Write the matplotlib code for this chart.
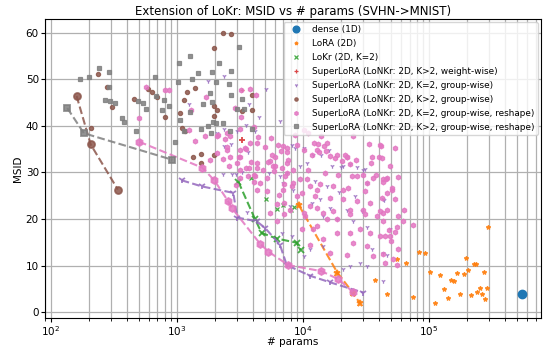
import numpy as np
import matplotlib
matplotlib.use("Agg")
from matplotlib import pyplot as plt

# ---- data (params, MSID) ----
dense_x = [550000]
dense_y = [3.9]

lora_line_x = [9300, 18700, 24800, 28300]
lora_line_y = [22.9, 8.5, 4.2, 1.9]
lora_pts = [(296000, 18.3), (83800, 13.0), (93500, 12.6), (197000, 11.6), (56100, 11.3),
            (65600, 10.5), (226000, 10.3), (235000, 10.3), (205000, 9.0), (272000, 8.7),
            (102000, 8.7), (122000, 7.9), (168000, 8.3), (188000, 8.2), (150000, 7.0),
            (159000, 6.6), (252000, 5.1), (287000, 5.1), (131000, 4.9), (242000, 4.4),
            (262000, 3.8), (177000, 4.0), (214000, 3.6), (46700, 3.9), (75200, 3.2),
            (141000, 3.1), (280000, 2.8), (112000, 1.9), (37500, 6.8)]

lokr_line_x = [3070, 4160, 4700, 6180, 8910, 9590]
lokr_line_y = [28.0, 20.0, 17.0, 15.8, 14.9, 13.3]
lokr_pts = [(3850, 28.7), (5060, 24.3), (6250, 22.2), (6980, 22.9), (7980, 21.9), (8490, 22.5)]

ww_line_x = [3300]
ww_line_y = [36.9]
ww_pts = [(3280, 47.6)]

gw2_line_x = [1090, 1570, 2800, 3010, 4290, 4990, 6560, 7430, 11400, 16400, 30000]
gw2_line_y = [28.3, 27.0, 25.6, 20.3, 19.5, 18.1, 14.5, 10.1, 7.8, 6.4, 4.2]
gw2_pts = [(1770, 49.7), (2370, 50.6), (1250, 44.7), (3750, 44.7), (5080, 47.8), (4480, 41.8),
           (6560, 41.1), (2370, 39.4), (3530, 40.1), (4160, 38.9), (2070, 38.4), (2980, 38.9),
           (2370, 35.7), (2670, 36.1), (3680, 34.4), (2750, 29.7), (3260, 30.0), (5340, 29.9),
           (6560, 29.2), (8130, 35.9), (8640, 35.2), (10100, 35.2), (12100, 33.8), (13800, 33.7),
           (16000, 34.9), (17100, 31.4), (20000, 31.2), (23600, 31.7), (30100, 30.6), (10700, 32.0),
           (9460, 31.3), (7430, 29.9), (12400, 28.1), (15400, 27.0), (19400, 25.7), (25900, 24.9),
           (32100, 27.7), (43400, 24.2), (13600, 24.2), (11700, 23.5), (16400, 22.4), (22200, 22.0),
           (29200, 21.7), (14500, 20.6), (18500, 19.9), (7890, 22.7), (6980, 27.7), (20600, 31.4),
           (26700, 31.2), (31000, 30.7), (25100, 19.5), (32100, 18.3), (6780, 17.0), (8130, 16.3),
           (11400, 13.5), (14500, 14.2), (20900, 9.2), (23600, 9.9), (32100, 9.9), (28300, 10.6),
           (35100, 13.5), (10100, 12.0), (49000, 17.8), (44000, 24.0), (43000, 12.8), (46100, 12.2),
           (43000, 6.6), (2310, 29.7), (2920, 29.7), (3610, 21.5), (8370, 26.3)]

gw_line_x = [160, 207, 340]
gw_line_y = [46.4, 36.0, 26.3]
gw_pts = [(237, 51.2), (278, 48.3), (303, 44.0), (208, 39.6), (456, 45.8), (585, 47.8),
          (637, 47.2), (698, 46.1), (804, 41.9), (1140, 45.5), (1210, 47.3), (1390, 48.1),
          (1980, 56.7), (2330, 60.0), (2670, 59.8), (1060, 42.8), (1100, 39.6), (1160, 38.8),
          (1980, 44.3), (2090, 43.3), (3920, 46.6), (3920, 43.3), (1350, 33.3), (1560, 34.0),
          (1980, 33.8), (1550, 32.0), (1980, 42.2), (3300, 43.2)]

rs2_line_x = [500, 1590, 1980, 2550, 2720, 4560, 5310, 7640, 14000, 19000, 25000]
rs2_line_y = [36.6, 31.0, 28.3, 23.8, 22.4, 14.7, 13.0, 10.1, 8.8, 7.1, 4.3]
rs2_pts = [(568, 48.3), (807, 47.6), (869, 47.6), (499, 41.6), (1290, 43.4), (1240, 39.1),
           (1390, 36.8), (1710, 46.2), (2870, 43.8), (3250, 47.6), (3820, 48.0), (4260, 46.6),
           (3220, 41.9), (4060, 39.7), (3150, 39.4), (2500, 38.5), (2080, 37.9), (2500, 35.4),
           (2310, 32.9), (3160, 33.3), (3510, 35.1), (3850, 32.2), (2600, 31.4), (3530, 31.0),
           (4290, 31.0), (4420, 37.5), (4310, 36.4), (4990, 35.4), (5540, 37.3), (6370, 35.8),
           (6730, 34.5), (7420, 35.2), (7640, 32.7), (5650, 33.8), (5250, 32.2), (5990, 31.3),
           (6780, 31.0), (4160, 29.2), (4560, 27.7), (2960, 27.2), (3180, 28.7), (1670, 37.9),
           (2100, 38.1), (2400, 37.2), (2640, 37.9), (3090, 33.3), (3440, 35.2), (3750, 31.0),
           (4060, 29.5), (4110, 28.0), (4340, 26.2), (5150, 28.8), (5890, 30.2), (5470, 32.4),
           (5990, 33.4), (6490, 25.1), (6250, 23.3), (7110, 27.5), (7110, 23.5), (7070, 21.0),
           (6180, 19.5), (12200, 36.3), (13100, 36.1), (14700, 35.6), (13400, 34.4), (15100, 34.5),
           (11700, 33.8), (16400, 33.6), (17900, 33.1), (22200, 33.4), (20300, 32.4), (26400, 32.7),
           (33600, 36.1), (40100, 33.4), (11000, 30.6), (15000, 29.9), (19100, 29.5), (24300, 29.2),
           (30100, 29.5), (36100, 28.8), (45300, 28.6), (57100, 29.0), (50600, 26.7), (53700, 24.2),
           (42100, 24.5), (31000, 25.9), (22900, 26.7), (17400, 27.0), (13600, 27.4), (11400, 27.0),
           (9770, 25.6), (12400, 24.9), (16400, 24.5), (20900, 24.2), (26700, 23.8), (34000, 23.5),
           (12900, 22.4), (17400, 21.7), (23600, 22.0), (31000, 21.0), (40800, 21.7), (43400, 19.5),
           (57100, 20.6), (10100, 21.3), (15400, 19.9), (7430, 32.0), (8370, 30.6), (7190, 29.2),
           (9460, 28.5), (8130, 27.0), (6980, 35.6), (8640, 38.1), (10200, 39.1), (25100, 37.9),
           (41600, 35.7), (35500, 33.2), (34400, 32.0), (21400, 33.8), (22500, 33.2), (23600, 31.7),
           (37800, 29.4), (46100, 28.7), (51100, 26.2), (63700, 21.9), (43400, 21.3), (75200, 18.7),
           (55400, 18.2), (43400, 27.9), (46100, 21.9), (61800, 19.5), (48200, 17.6), (53700, 17.2),
           (44800, 16.3), (49900, 15.2), (57100, 13.6), (52100, 11.3), (44800, 10.6), (56100, 10.1),
           (7430, 34.3), (8910, 35.9), (10100, 34.9), (12900, 34.9), (15400, 36.3), (18500, 33.8),
           (40800, 35.8), (42100, 33.1), (53700, 35.2), (49000, 31.3), (43400, 28.5), (46700, 25.6),
           (32100, 27.7), (26700, 29.2), (20900, 26.3), (12900, 26.3), (10700, 28.5), (11400, 22.7),
           (14500, 21.3), (18500, 19.9), (23600, 21.0), (30100, 22.0), (38400, 20.6), (28300, 17.8),
           (34000, 17.0), (40800, 16.3), (49000, 16.3), (23600, 17.0), (18500, 17.0), (14500, 15.6),
           (11400, 14.5), (12100, 17.8), (16400, 12.8), (22200, 12.2), (32100, 14.2), (43400, 12.4),
           (36100, 12.0), (25100, 14.9), (7430, 29.9), (6980, 26.3), (8370, 27.7), (8910, 24.9),
           (7890, 22.0), (10400, 20.6), (12900, 18.5), (9770, 17.8), (5810, 31.3), (4840, 30.6),
           (5150, 25.9), (5470, 21.3), (4290, 32.0), (2980, 32.0), (2640, 33.4), (3160, 34.9),
           (3790, 36.3), (2480, 34.9), (2070, 34.2), (1830, 32.7), (3640, 29.2), (3160, 30.6),
           (11000, 38.4), (14000, 37.9)]

rs_line_x = [135, 183, 920]
rs_line_y = [43.8, 38.4, 32.7]
rs_pts = [(170, 50.1), (199, 50.4), (239, 52.3), (289, 51.6), (289, 48.4), (270, 45.5),
          (292, 45.4), (322, 44.9), (368, 41.6), (382, 40.9), (473, 38.8), (490, 45.3),
          (540, 44.9), (568, 43.6), (668, 50.5), (685, 46.4), (764, 43.4), (793, 45.6),
          (859, 44.3), (959, 36.5), (1020, 49.3), (1060, 41.3), (1030, 53.4), (1270, 55.0),
          (1310, 50.1), (1470, 51.4), (1560, 39.3), (1620, 44.7), (1770, 40.0), (1820, 47.1),
          (1900, 51.5), (1900, 45.1), (2040, 49.5), (2150, 53.4), (1950, 40.9), (2060, 40.7),
          (2340, 40.7), (2570, 49.0), (2620, 38.9), (2670, 51.7), (2670, 46.7), (3090, 57.0),
          (3300, 45.8), (3010, 43.6), (3420, 43.6), (3940, 39.3), (1270, 42.9), (1140, 38.8),
          (1850, 38.4)]

labels = ['dense (1D)', 'LoRA (2D)', 'LoKr (2D, K=2)',
          'SuperLoRA (LoNKr: 2D, K>2, weight-wise)',
          'SuperLoRA (LoNKr: 2D, K=2, group-wise)',
          'SuperLoRA (LoNKr: 2D, K>2, group-wise)',
          'SuperLoRA (LoNKr: 2D, K=2, group-wise, reshape)',
          'SuperLoRA (LoNKr: 2D, K>2, group-wise, reshape)']

fig = plt.figure(figsize=(5.43, 3.47), dpi=100)
ax = fig.add_axes([0.083, 0.083, 0.913, 0.862])

# dense
ax.plot(dense_x, dense_y, 'o', color='C0', ms=6, label=labels[0])

series = [
    (lora_pts, lora_line_x, lora_line_y, 'C1', '*', labels[1]),
    (lokr_pts, lokr_line_x, lokr_line_y, 'C2', 'x', labels[2]),
    (ww_pts, ww_line_x, ww_line_y, 'C3', '+', labels[3]),
    (gw2_pts, gw2_line_x, gw2_line_y, 'C4', '1', labels[4]),
    (gw_pts, gw_line_x, gw_line_y, 'C5', 'o', labels[5]),
    (rs2_pts, rs2_line_x, rs2_line_y, 'C6', 'h', labels[6]),
    (rs_pts, rs_line_x, rs_line_y, 'C7', 's', labels[7]),
]
for pts, lx, ly, c, m, lab in series:
    px, py = zip(*pts)
    if m == 'h':
        ms = 3.4
    elif m in ('o', 's'):
        ms = 3.0
    else:
        ms = 3.2
    ax.plot(px, py, m, color=c, ms=ms, alpha=0.85, mew=0.9, ls='none', label=lab)
    ax.plot(lx, ly, '--', marker=m, color=c, ms=5, lw=1.5, alpha=0.85, mew=1.3)

ax.set_xscale('log')
ax.set_xlim(90, 7.7e5)
ax.set_ylim(-1.3, 62.9)
ax.grid(True, which='both', color='#b0b0b0', lw=0.9)
ax.set_axisbelow(True)
ax.tick_params(labelsize=7.5, pad=1.5, length=3)
ax.tick_params(which='minor', length=2)
ax.set_xlabel('# params', fontsize=7.5)
ax.xaxis.set_label_coords(0.5, -0.062)
ax.set_ylabel('MSID', fontsize=7.5, labelpad=2)
ax.set_title('Extension of LoKr: MSID vs # params (SVHN->MNIST)', fontsize=8.5, pad=3)
ax.legend(loc='upper right', fontsize=6.4, markerscale=0.8, borderaxespad=0.3,
          labelspacing=0.55, handletextpad=0.8, framealpha=0.8)

fig.savefig('out.png', dpi=100)
